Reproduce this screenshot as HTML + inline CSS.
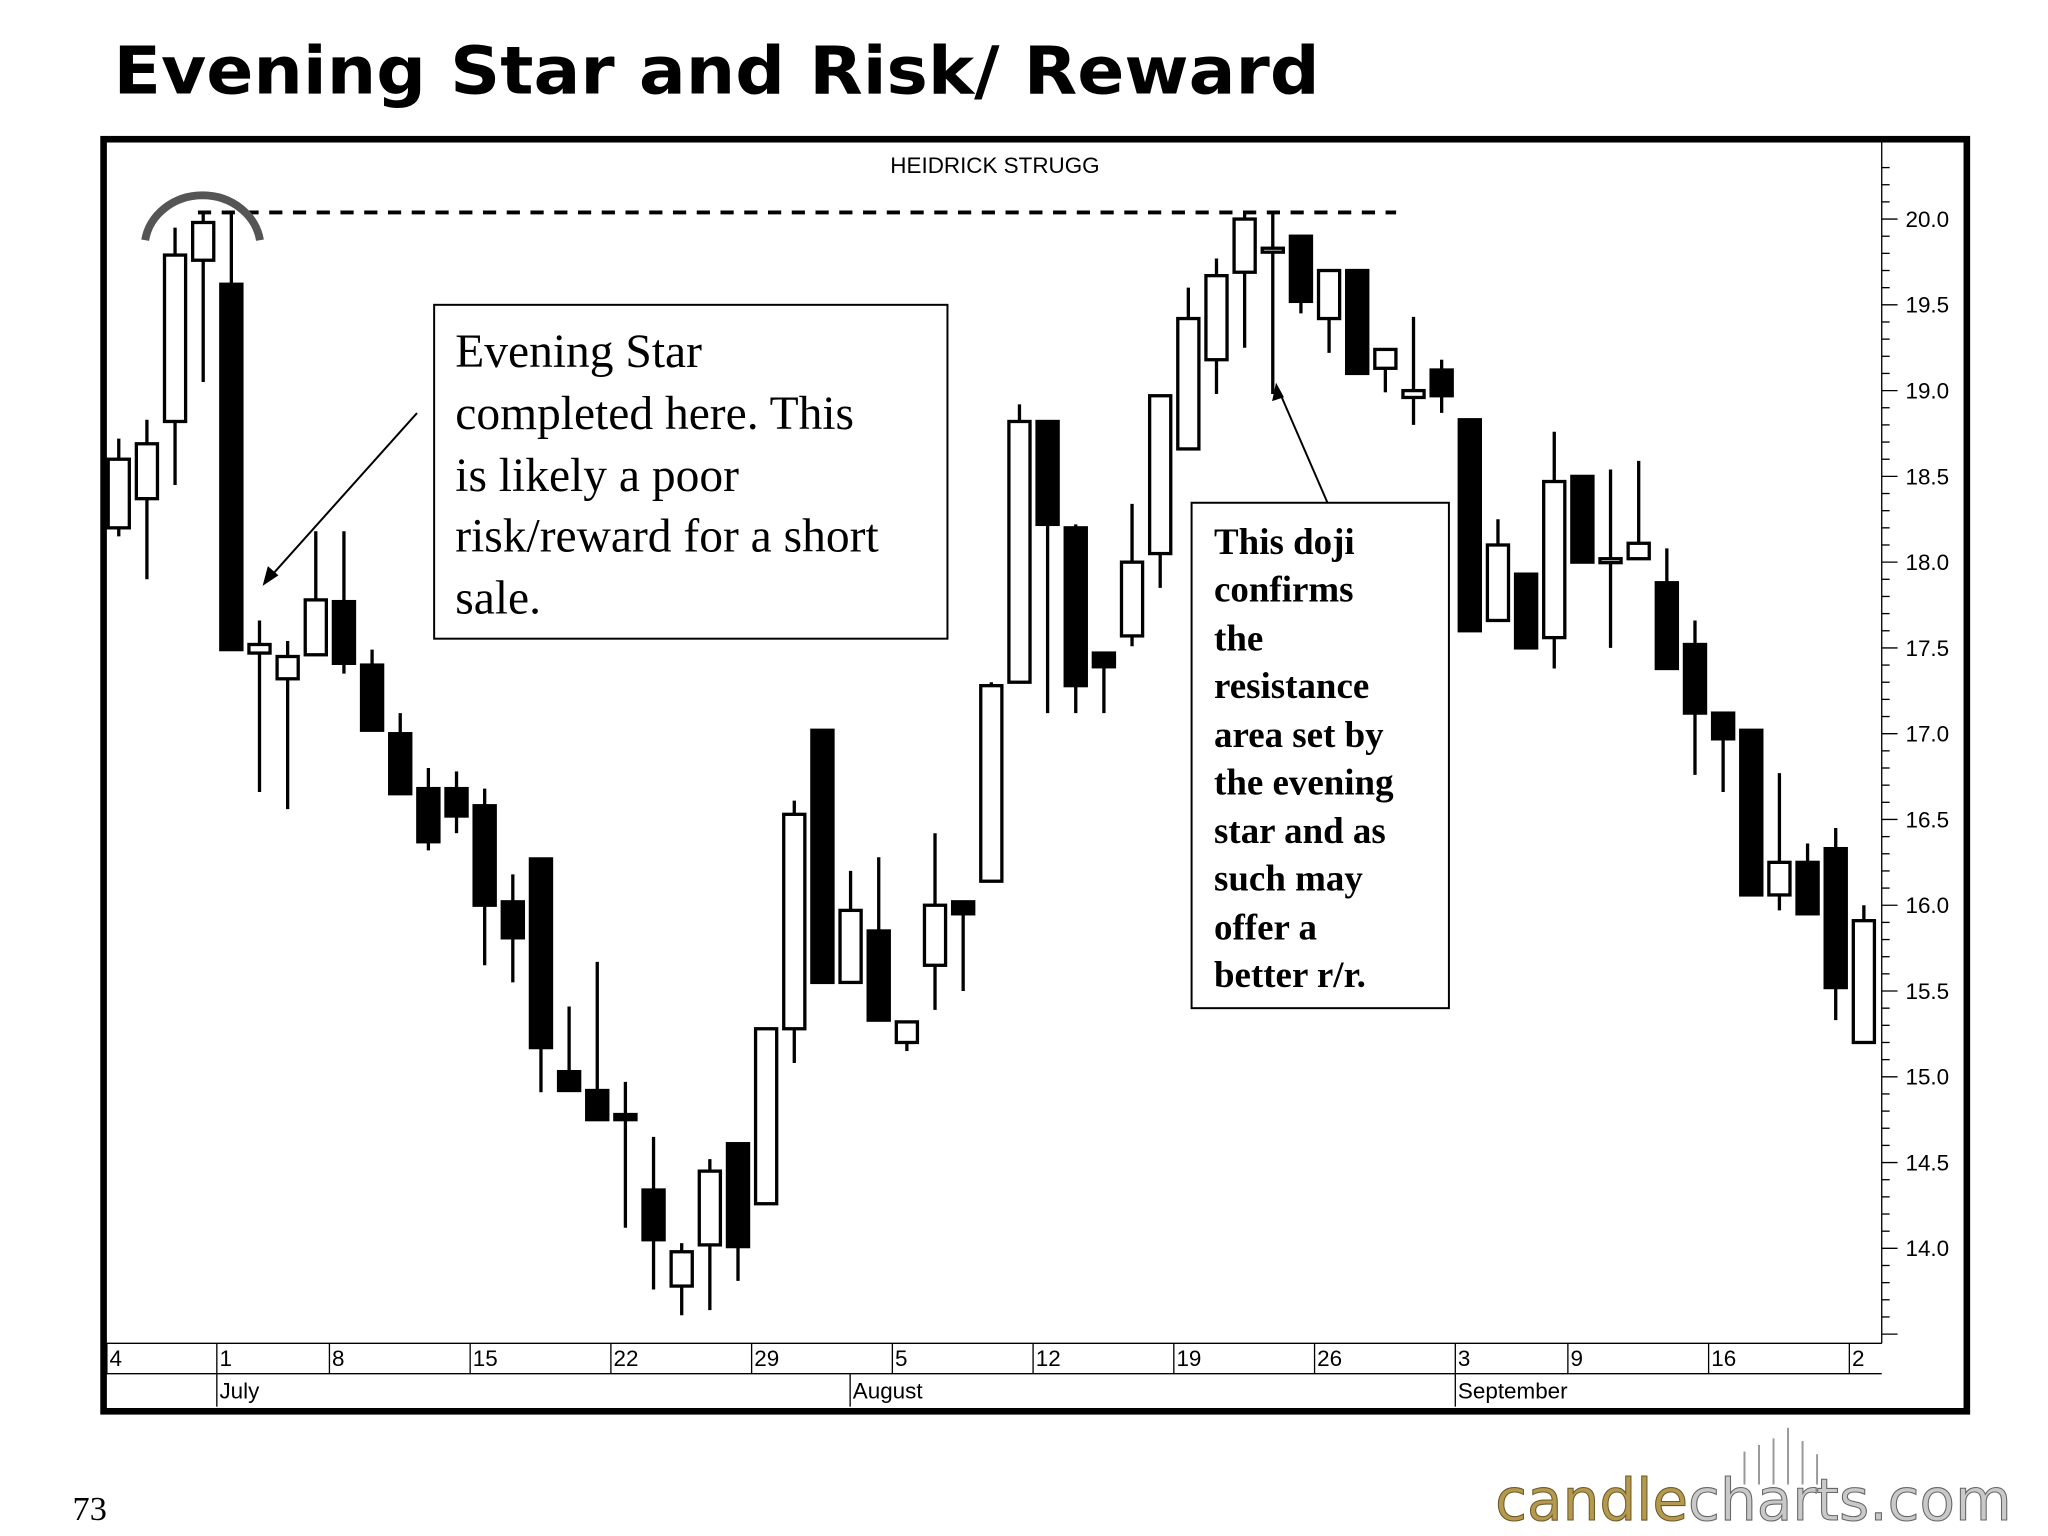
<!DOCTYPE html>
<html><head><meta charset="utf-8"><style>
html,body{margin:0;padding:0;background:#fff;}
svg{display:block;}
</style></head><body>
<svg id="chart" width="2048" height="1536" viewBox="0 0 1552 1164" xmlns="http://www.w3.org/2000/svg">
<rect width="1552" height="1164" fill="#fff"/>
<text x="86" y="71" textLength="914" lengthAdjust="spacingAndGlyphs" font-family="DejaVu Sans, Liberation Sans, sans-serif" font-weight="bold" font-size="50">Evening Star and Risk/ Reward</text>
<rect x="78.5" y="105.5" width="1412" height="964" fill="none" stroke="#000" stroke-width="5"/>
<line x1="1426" y1="108" x2="1426" y2="1018" stroke="#000" stroke-width="1"/>
<line x1="80" y1="1018" x2="1426" y2="1018" stroke="#000" stroke-width="1"/>
<line x1="80" y1="1041" x2="1426" y2="1041" stroke="#000" stroke-width="1"/>
<text x="754" y="131" text-anchor="middle" font-family="Liberation Sans, sans-serif" font-size="17">HEIDRICK STRUGG</text>
<g id="yaxis"></g>
<g id="xaxis"></g>
<line x1="150" y1="161" x2="1058" y2="161" stroke="#000" stroke-width="3" stroke-dasharray="10,8"/>
<path d="M110,182 A44,40 0 0 1 197,182" fill="none" stroke="#555" stroke-width="6"/>
<g id="candles"></g>
<g>
<rect x="329" y="231" width="389" height="253" fill="#fff" stroke="#000" stroke-width="1.5"/>
<g font-family="Liberation Serif, serif" font-size="36">
<text x="345" y="278">Evening Star</text>
<text x="345" y="325">completed here. This</text>
<text x="345" y="372">is likely a poor</text>
<text x="345" y="418">risk/reward for a short</text>
<text x="345" y="465">sale.</text>
</g>
<line x1="316" y1="313" x2="205" y2="437" stroke="#000" stroke-width="1.5"/>
<polygon points="199,444 203,429 211,436" fill="#000"/>
</g>
<g>
<rect x="903" y="381" width="195" height="383" fill="#fff" stroke="#000" stroke-width="1.5"/>
<g font-family="Liberation Serif, serif" font-size="28" font-weight="bold">
<text x="920" y="420">This doji</text>
<text x="920" y="456">confirms</text>
<text x="920" y="493">the</text>
<text x="920" y="529">resistance</text>
<text x="920" y="566">area set by</text>
<text x="920" y="602">the evening</text>
<text x="920" y="639">star and as</text>
<text x="920" y="675">such may</text>
<text x="920" y="712">offer a</text>
<text x="920" y="748">better r/r.</text>
</g>
<line x1="1006" y1="381" x2="970" y2="298" stroke="#000" stroke-width="1.5"/>
<polygon points="967,290 964,304 973,301" fill="#000"/>
</g>
<text x="55" y="1152" font-family="Liberation Serif, serif" font-size="26">73</text>
<g>
<g stroke="#999" stroke-width="1.5">
<line x1="1322" y1="1100" x2="1322" y2="1125"/><line x1="1333" y1="1095" x2="1333" y2="1125"/><line x1="1344" y1="1090" x2="1344" y2="1125"/><line x1="1355" y1="1082" x2="1355" y2="1125"/><line x1="1366" y1="1092" x2="1366" y2="1125"/><line x1="1377" y1="1102" x2="1377" y2="1125"/>
</g>
<text x="1133" y="1152" font-family="DejaVu Sans, Liberation Sans, sans-serif" font-size="44" fill="#b59a4e" stroke="#6b5a2a" stroke-width="0.8">candle<tspan fill="#c9c9c9" stroke="#666">charts.com</tspan></text>
</g>
</svg>
<script>
const opens  = [18.2,18.37,18.82,19.76,19.62,17.47,17.32,17.46,17.77,17.4,17.0,16.68,16.68,16.58,16.02,16.27,15.03,14.92,14.78,14.34,13.78,14.02,14.61,14.26,15.28,17.02,15.55,15.85,15.2,15.65,16.02,16.14,17.3,18.82,18.2,17.47,17.57,18.05,18.66,19.18,19.69,19.82,19.9,19.42,19.7,19.13,18.96,19.12,18.83,17.66,17.93,17.56,18.5,18.0,18.02,17.88,17.52,17.12,17.02,16.06,16.25,16.33,15.2];
const highs  = [18.72,18.83,19.95,20.03,20.03,17.66,17.54,18.18,18.18,17.49,17.12,16.8,16.78,16.68,16.18,16.27,15.41,15.67,14.97,14.65,14.03,14.52,14.61,15.28,16.61,17.02,16.2,16.28,15.32,16.42,16.02,17.3,18.92,18.82,18.22,17.47,18.34,18.97,19.6,19.77,20.05,20.03,19.9,19.7,19.7,19.24,19.43,19.18,18.83,18.25,17.93,18.76,18.5,18.54,18.59,18.08,17.66,17.12,17.02,16.77,16.36,16.45,16.0];
const lows   = [18.15,17.9,18.45,19.05,17.49,16.66,16.56,17.46,17.35,17.02,16.65,16.32,16.42,15.65,15.55,14.91,14.92,14.75,14.12,13.76,13.61,13.64,13.81,14.26,15.08,15.55,15.55,15.33,15.15,15.39,15.5,16.14,17.3,17.12,17.12,17.12,17.51,17.85,18.66,18.98,19.25,18.98,19.45,19.22,19.1,18.99,18.8,18.87,17.6,17.66,17.5,17.38,18.0,17.5,18.02,17.38,16.76,16.66,16.06,15.97,15.95,15.33,15.2];
const closes = [18.6,18.69,19.79,19.98,17.49,17.52,17.45,17.78,17.41,17.02,16.65,16.37,16.52,16.0,15.81,15.17,14.92,14.75,14.75,14.05,13.98,14.45,14.01,15.28,16.53,15.55,15.97,15.33,15.32,16.0,15.95,17.28,18.82,18.22,17.28,17.39,18.0,18.97,19.42,19.67,20.0,19.83,19.52,19.7,19.1,19.24,19.0,18.97,17.6,18.1,17.5,18.47,18.0,18.02,18.11,17.38,17.12,16.97,16.06,16.25,15.95,15.52,15.91];
const yTicks = [14.0,14.5,15.0,15.5,16.0,16.5,17.0,17.5,18.0,18.5,19.0,19.5,20.0];
const dateLabels = ["4","1","8","15","22","29","5","12","19","26","3","9","16","2"];
const dateIdx = [-0.5,4,8,13,18,23,28,33,38,43,48,52,57,62];
const monthLabels = ["July","August","September"];
const monthIdx = [4,26.5,48];

const NS="http://www.w3.org/2000/svg";
const y = v => 166 + (20 - v) * 130;
const x = i => 90 + i * 21.33;
function mk(tag, attrs, parent){const e=document.createElementNS(NS,tag);for(const k in attrs)e.setAttribute(k,attrs[k]);parent.appendChild(e);return e;}

const ya=document.getElementById('yaxis');
for(let v=13.5; v<=20.4; v+=0.1){
  const vv=Math.round(v*10)/10;
  const major = Math.abs(vv*2-Math.round(vv*2))<1e-6;
  const t=mk('line',{x1:1426,x2:major?1438:1432,y1:y(vv),y2:y(vv),stroke:'#000','stroke-width':1},ya);
  
  
}
yTicks.forEach(v=>{
  const t=mk('text',{x:1444,y:y(v)+6,'font-family':'Liberation Sans, sans-serif','font-size':17},ya);
  t.textContent=v.toFixed(1);
  
  
});
const xa=document.getElementById('xaxis');
dateLabels.forEach((d,k)=>{
  const px = k===0 ? 81 : x(dateIdx[k]) - 11;
  mk('line',{x1:px,x2:px,y1:1018,y2:1041,stroke:'#000','stroke-width':1},xa);
  const t=mk('text',{x:px+2,y:1035,'font-family':'Liberation Sans, sans-serif','font-size':17},xa);
  t.textContent=d;
  
  
});
monthLabels.forEach((m,k)=>{
  const px = x(monthIdx[k]) - 11;
  mk('line',{x1:px,x2:px,y1:1041,y2:1066,stroke:'#000','stroke-width':1},xa);
  const t=mk('text',{x:px+2,y:1060,'font-family':'Liberation Sans, sans-serif','font-size':17},xa);
  t.textContent=m;
  
  
});

const cg=document.getElementById('candles');
opens.forEach((o,i)=>{
  const c=closes[i], cx=x(i), up=c>=o;
  const g=mk('g',{},cg);
  
  
  mk('line',{x1:cx,x2:cx,y1:y(highs[i]),y2:y(lows[i]),stroke:'#000','stroke-width':2.5},g);
  const top=y(Math.max(o,c)), h=Math.max(3,y(Math.min(o,c))-top);
  mk('rect',{x:cx-8,y:top,width:16,height:h,fill:up?'#fff':'#000',stroke:'#000','stroke-width':2.5},g);
});
</script>
</body></html>
